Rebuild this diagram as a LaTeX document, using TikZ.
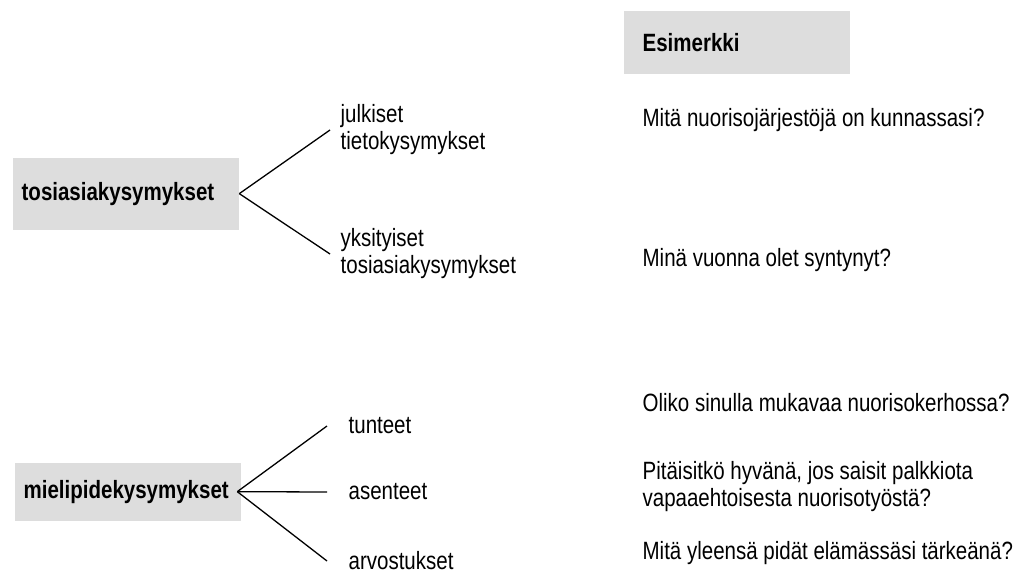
\documentclass[tikz,border=0pt]{standalone}
\usepackage{fontspec}
\setmainfont{Liberation Sans}[FakeStretch=0.82]
\usepackage{tikz}
\usetikzlibrary{positioning}
\definecolor{boxgray}{HTML}{DDDDDD}

\begin{document}
\begin{tikzpicture}[x=1pt, y=-1pt,
    every node/.style = {font=\fontsize{25}{27}\selectfont, inner sep=0pt},
    head/.style = {fill=boxgray, font=\fontsize{25}{27}\selectfont\bfseries,
      anchor=north west, align=left, inner xsep=9pt, text width=208pt},
    leaf/.style = {anchor=west, align=left, inner xsep=10pt},
    ex/.style = {anchor=west, align=left},
    every path/.style = {line width=1.3pt}]
  \useasboundingbox (0,0) rectangle (1015,576);

  % upper group
  \node[head, minimum height=72pt] (tosi) at (12,157) {tosiasiakysymykset};
  \node[leaf] (julk) at (330,130) {julkiset\\tietokysymykset};
  \node[leaf] (yksi) at (330,254) {yksityiset\\tosiasiakysymykset};
  \draw (tosi.east) -- (julk.west);
  \draw (tosi.east) -- (yksi.west);

  % lower group
  \node[head, minimum height=58pt] (mieli) at (14,462) {mielipidekysymykset};
  \node[leaf, inner xsep=21pt] (tunt) at (327,426) {tunteet};
  \node[leaf, inner xsep=21pt] (asen) at (327,492) {asenteet};
  \node[leaf, inner xsep=21pt] (arvo) at (327,561) {arvostukset};
  \draw ([xshift=-4pt]mieli.east) -- (tunt.west);
  \draw ([xshift=-4pt]mieli.east) -- (asen.west);
  \draw ([xshift=-4pt]mieli.east) -- (arvo.west);

  % examples
  \node[head, inner xsep=19pt, text width=188pt, minimum height=63pt] (esim) at (623,10) {Esimerkki};
  \node[ex] (ex1) at (642,120) {Mitä nuorisojärjestöjä on kunnassasi?};
  \node[ex] (ex2) at (642,260) {Minä vuonna olet syntynyt?};
  \node[ex] (ex3) at (642,403) {Oliko sinulla mukavaa nuorisokerhossa?};
  \node[ex] (ex4) at (642,487) {Pitäisitkö hyvänä, jos saisit palkkiota\\vapaaehtoisesta nuorisotyöstä?};
  \node[ex] (ex5) at (642,553) {Mitä yleensä pidät elämässäsi tärkeänä?};
\end{tikzpicture}
\end{document}
